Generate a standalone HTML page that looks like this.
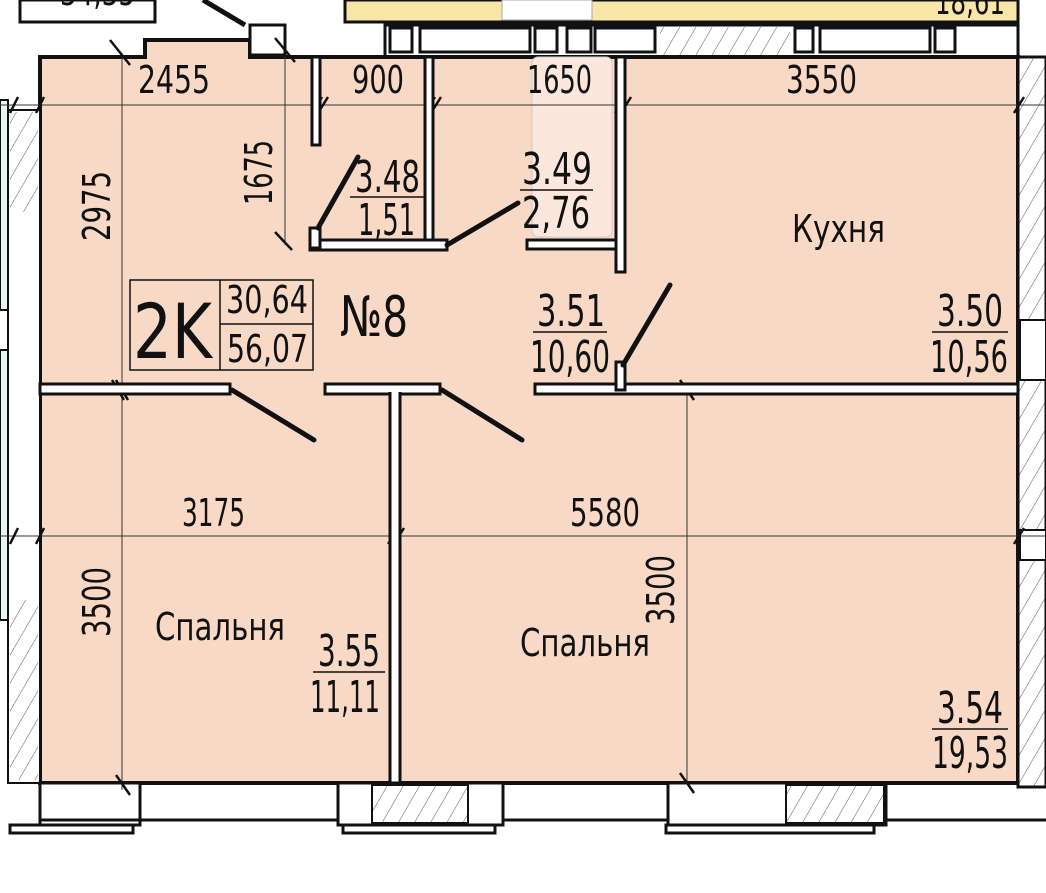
<!DOCTYPE html>
<html><head><meta charset="utf-8"><style>
html,body{margin:0;padding:0;background:#fff}
svg{display:block}
text{font-family:"DejaVu Sans Condensed","Liberation Sans",sans-serif;fill:#111}
</style></head><body>
<svg width="1046" height="893" viewBox="0 0 1046 893" xmlns="http://www.w3.org/2000/svg">
<defs>
<pattern id="h" width="14" height="14" patternUnits="userSpaceOnUse" patternTransform="rotate(30)">
<rect width="14" height="14" fill="#fff"/><line x1="0" y1="0" x2="0" y2="14" stroke="#555" stroke-width="1"/>
</pattern>
</defs>
<rect x="345" y="0" width="673" height="22" fill="#f8e6a8" stroke="#111" stroke-width="3"/>
<rect x="502" y="0" width="90" height="20" fill="#fff" stroke="#aaa"/>
<text x="935" y="14" font-size="36" textLength="70" lengthAdjust="spacingAndGlyphs">18,61</text>
<rect x="20" y="0" width="135" height="22" fill="#fff" stroke="#111" stroke-width="3"/>
<text x="60" y="5" font-size="36" textLength="75" lengthAdjust="spacingAndGlyphs">34,35</text>
<rect x="245" y="0" width="60" height="22" fill="#fff"/>
<line x1="203" y1="0" x2="245" y2="25" stroke="#111" stroke-width="5"/>
<rect x="385" y="25" width="633" height="32" fill="#fff" stroke="#111" stroke-width="3"/>
<rect x="660" y="27" width="130" height="28" fill="url(#h)"/>
<g fill="#fff" stroke="#111" stroke-width="3">
<rect x="390" y="28" width="22" height="24"/><rect x="420" y="28" width="110" height="24"/><rect x="535" y="28" width="22" height="24"/><rect x="567" y="28" width="24" height="24"/><rect x="595" y="28" width="60" height="24"/>
<rect x="795" y="28" width="18" height="24"/><rect x="820" y="28" width="110" height="24"/><rect x="935" y="28" width="20" height="24"/>
</g>
<path d="M40 57 H145 V40 H250 V57 H1018 V783 H40 Z" fill="#f8d9c6" stroke="#111" stroke-width="4"/>
<rect x="250" y="25" width="35" height="30" fill="#fff" stroke="#111" stroke-width="3"/>
<rect x="532" y="57" width="80" height="180" rx="6" fill="#fbe7dc" stroke="#ccc"/>
<rect x="8" y="110" width="32" height="673" fill="#fff" stroke="#111" stroke-width="2"/>
<rect x="10" y="112" width="28" height="100" fill="url(#h)"/>
<rect x="10" y="600" width="28" height="180" fill="url(#h)"/>
<rect x="0" y="100" width="8" height="210" fill="#e8f7ee" stroke="#111" stroke-width="2"/>
<rect x="0" y="350" width="8" height="270" fill="#e8f7ee" stroke="#111" stroke-width="2"/>
<rect x="1018" y="57" width="28" height="730" fill="url(#h)" stroke="#111" stroke-width="3"/>
<rect x="1020" y="320" width="26" height="60" fill="#fff" stroke="#111" stroke-width="2"/>
<rect x="1020" y="530" width="26" height="30" fill="#fff" stroke="#111" stroke-width="2"/>
<rect x="40" y="783" width="100" height="42" fill="#fff" stroke="#111" stroke-width="3"/>
<line x1="40" y1="820" x2="1046" y2="820" stroke="#111" stroke-width="3"/>
<rect x="338" y="783" width="165" height="42" fill="#fff" stroke="#111" stroke-width="3"/>
<rect x="372" y="785" width="96" height="38" fill="url(#h)" stroke="#111" stroke-width="2"/>
<rect x="343" y="825" width="152" height="8" fill="#fff" stroke="#111" stroke-width="3"/>
<rect x="668" y="783" width="218" height="42" fill="#fff" stroke="#111" stroke-width="3"/>
<rect x="786" y="785" width="98" height="38" fill="url(#h)" stroke="#111" stroke-width="2"/>
<rect x="666" y="825" width="208" height="8" fill="#fff" stroke="#111" stroke-width="3"/>
<rect x="10" y="825" width="123" height="8" fill="#fff" stroke="#111" stroke-width="3"/>
<g stroke="#333" stroke-width="1">
<line x1="0" y1="105" x2="1046" y2="105"/>
<line x1="0" y1="536" x2="1046" y2="536"/>
<line x1="122" y1="57" x2="122" y2="790"/>
<line x1="687" y1="385" x2="687" y2="783"/>
<line x1="285" y1="57" x2="285" y2="245"/>
</g>
<g stroke="#111" stroke-width="2.5">
<line x1="10" y1="113" x2="18" y2="97"/><line x1="36" y1="113" x2="44" y2="97"/>
<line x1="312" y1="113" x2="322" y2="97"/><line x1="318" y1="113" x2="328" y2="97"/>
<line x1="425" y1="113" x2="435" y2="97"/><line x1="431" y1="113" x2="441" y2="97"/>
<line x1="615" y1="113" x2="625" y2="97"/><line x1="621" y1="113" x2="631" y2="97"/>
<line x1="1014" y1="113" x2="1024" y2="97"/>
<line x1="10" y1="544" x2="18" y2="528"/><line x1="36" y1="544" x2="44" y2="528"/>
<line x1="388" y1="544" x2="398" y2="528"/><line x1="394" y1="544" x2="404" y2="528"/>
<line x1="1014" y1="544" x2="1024" y2="528"/>
<line x1="116" y1="380" x2="128" y2="400"/><line x1="112" y1="380" x2="124" y2="400"/>
<line x1="116" y1="775" x2="130" y2="795"/><line x1="680" y1="380" x2="694" y2="400"/><line x1="680" y1="773" x2="694" y2="793"/>
<line x1="110" y1="40" x2="130" y2="65"/><line x1="275" y1="38" x2="295" y2="62"/><line x1="275" y1="232" x2="292" y2="250"/>
</g>
<g fill="#fff" stroke="#111" stroke-width="3">
<rect x="40" y="384" width="190" height="10"/>
<rect x="325" y="384" width="115" height="10"/>
<rect x="535" y="384" width="483" height="10"/>
<rect x="616" y="362" width="9" height="28"/>
<rect x="390" y="388" width="10" height="395"/>
<rect x="312" y="57" width="8" height="88"/>
<rect x="425" y="57" width="8" height="191"/>
<rect x="310" y="240" width="137" height="10"/>
<rect x="310" y="228" width="10" height="20"/>
<rect x="527" y="240" width="95" height="9"/>
<rect x="616" y="57" width="9" height="215"/>
</g>
<rect x="327" y="386" width="111" height="6" fill="#fff"/>
<rect x="392" y="390" width="6" height="391" fill="#fff"/>
<g stroke="#111" stroke-width="5" stroke-linecap="round">
<line x1="232" y1="390" x2="314" y2="440"/>
<line x1="442" y1="390" x2="522" y2="440"/>
<line x1="318" y1="228" x2="358" y2="157"/>
<line x1="447" y1="245" x2="518" y2="203"/>
<line x1="623" y1="365" x2="670" y2="285"/>
</g>
<g font-size="38" lengthAdjust="spacingAndGlyphs">
<text x="138" y="93" textLength="72" lengthAdjust="spacingAndGlyphs">2455</text>
<text x="352" y="93" textLength="52" lengthAdjust="spacingAndGlyphs">900</text>
<text x="527" y="93" textLength="65" lengthAdjust="spacingAndGlyphs">1650</text>
<text x="786" y="93" textLength="71" lengthAdjust="spacingAndGlyphs">3550</text>
<text x="182" y="526" textLength="63" lengthAdjust="spacingAndGlyphs">3175</text>
<text x="570" y="526" textLength="70" lengthAdjust="spacingAndGlyphs">5580</text>
<text transform="translate(110,241) rotate(-90)" textLength="70" lengthAdjust="spacingAndGlyphs">2975</text>
<text transform="translate(272,205) rotate(-90)" textLength="65" lengthAdjust="spacingAndGlyphs">1675</text>
<text transform="translate(110,637) rotate(-90)" textLength="70" lengthAdjust="spacingAndGlyphs">3500</text>
<text transform="translate(674,625) rotate(-90)" textLength="70" lengthAdjust="spacingAndGlyphs">3500</text>
<text x="792" y="242" textLength="93" lengthAdjust="spacingAndGlyphs">Кухня</text>
<text x="155" y="640" textLength="130" lengthAdjust="spacingAndGlyphs">Спальня</text>
<text x="520" y="656" textLength="130" lengthAdjust="spacingAndGlyphs">Спальня</text>
</g>
<g font-size="44">
<text x="355" y="192" textLength="65" lengthAdjust="spacingAndGlyphs">3.48</text><line x1="350" y1="197" x2="425" y2="197" stroke="#111" stroke-width="1.5"/><text x="358" y="235" textLength="57" lengthAdjust="spacingAndGlyphs">1,51</text>
<text x="522" y="184" textLength="70" lengthAdjust="spacingAndGlyphs">3.49</text><line x1="520" y1="190" x2="593" y2="190" stroke="#111" stroke-width="1.5"/><text x="522" y="228" textLength="68" lengthAdjust="spacingAndGlyphs">2,76</text>
<text x="537" y="326" textLength="68" lengthAdjust="spacingAndGlyphs">3.51</text><line x1="533" y1="332" x2="607" y2="332" stroke="#111" stroke-width="1.5"/><text x="530" y="372" textLength="80" lengthAdjust="spacingAndGlyphs">10,60</text>
<text x="937" y="326" textLength="66" lengthAdjust="spacingAndGlyphs">3.50</text><line x1="932" y1="332" x2="1008" y2="332" stroke="#111" stroke-width="1.5"/><text x="930" y="372" textLength="78" lengthAdjust="spacingAndGlyphs">10,56</text>
<text x="318" y="666" textLength="62" lengthAdjust="spacingAndGlyphs">3.55</text><line x1="313" y1="672" x2="385" y2="672" stroke="#111" stroke-width="1.5"/><text x="310" y="712" textLength="70" lengthAdjust="spacingAndGlyphs">11,11</text>
<text x="937" y="723" textLength="66" lengthAdjust="spacingAndGlyphs">3.54</text><line x1="932" y1="729" x2="1008" y2="729" stroke="#111" stroke-width="1.5"/><text x="932" y="768" textLength="76" lengthAdjust="spacingAndGlyphs">19,53</text>
</g>
<rect x="130" y="280" width="183" height="90" fill="none" stroke="#111" stroke-width="1.5"/>
<line x1="220" y1="280" x2="220" y2="370" stroke="#111" stroke-width="1.5"/>
<line x1="220" y1="324" x2="313" y2="324" stroke="#111" stroke-width="1.5"/>
<text x="133" y="358" font-size="76" textLength="79" lengthAdjust="spacingAndGlyphs">2K</text>
<text x="226" y="313" font-size="38" textLength="82" lengthAdjust="spacingAndGlyphs">30,64</text>
<text x="227" y="362" font-size="38" textLength="81" lengthAdjust="spacingAndGlyphs">56,07</text>
<text x="340" y="336" font-size="56" textLength="68" lengthAdjust="spacingAndGlyphs">№8</text>
</svg>
</body></html>
